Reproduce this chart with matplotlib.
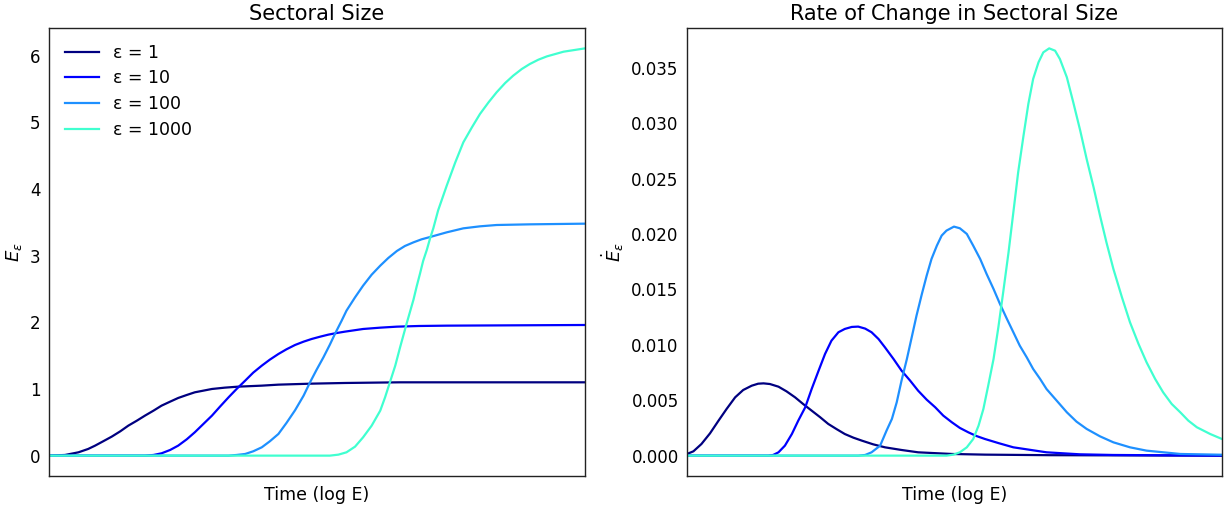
import numpy as np
import matplotlib
matplotlib.use('Agg')
import matplotlib.pyplot as plt

# values, x is time on a 0..10 (log E) scale
eps_labels = ['ε = 1', 'ε = 10', 'ε = 100', 'ε = 1000']
colors = ['navy', 'blue', 'dodgerblue', '#40ffd0']

# --- sectoral size E_eps ---
size_t_1 = [0.00, 0.30, 0.55, 0.73, 0.86, 1.01, 1.17, 1.33, 1.48, 1.64, 1.79, 1.95, 2.10, 2.26, 2.41,
            2.57, 2.72, 2.88, 3.04, 3.28, 3.53, 3.97, 4.28, 4.90, 5.52, 6.55, 10.0]
size_v_1 = [0.00, 0.01, 0.05, 0.10, 0.15, 0.215, 0.285, 0.365, 0.45, 0.525, 0.60, 0.675, 0.75, 0.81, 0.865,
            0.91, 0.95, 0.975, 1.00, 1.02, 1.035, 1.05, 1.065, 1.08, 1.09, 1.10, 1.10]

size_t_10 = [0.00, 1.79, 1.95, 2.10, 2.26, 2.41, 2.57, 2.72, 2.88, 3.04, 3.19, 3.35, 3.50, 3.66, 3.81,
             3.97, 4.12, 4.28, 4.43, 4.59, 4.75, 4.90, 5.06, 5.21, 5.37, 5.52, 5.69, 5.86, 6.18, 6.49,
             6.90, 7.42, 10.0]
size_v_10 = [0.00, 0.00, 0.01, 0.035, 0.085, 0.15, 0.245, 0.35, 0.475, 0.60, 0.735, 0.875, 1.00, 1.125, 1.245,
             1.35, 1.44, 1.525, 1.595, 1.66, 1.71, 1.75, 1.785, 1.815, 1.84, 1.86, 1.88, 1.90, 1.92, 1.935,
             1.945, 1.95, 1.96]

size_t_100 = [0.00, 3.35, 3.50, 3.66, 3.81, 3.97, 4.12, 4.28, 4.43, 4.59, 4.75, 4.87, 4.99, 5.12, 5.24,
              5.34, 5.46, 5.55, 5.71, 5.86, 6.02, 6.18, 6.33, 6.49, 6.64, 6.80, 6.95, 7.11, 7.42, 7.73,
              8.04, 8.35, 8.97, 10.0]
size_v_100 = [0.00, 0.00, 0.01, 0.025, 0.065, 0.125, 0.215, 0.325, 0.49, 0.68, 0.90, 1.10, 1.285, 1.475, 1.665,
              1.835, 2.025, 2.175, 2.375, 2.55, 2.715, 2.85, 2.965, 3.07, 3.145, 3.20, 3.245, 3.28, 3.35, 3.41,
              3.44, 3.46, 3.47, 3.48]

size_t_1000 = [0.00, 5.24, 5.40, 5.55, 5.71, 5.86, 6.02, 6.18, 6.27, 6.36, 6.46, 6.55, 6.67, 6.80, 6.86,
               6.92, 6.98, 7.05, 7.11, 7.17, 7.26, 7.42, 7.58, 7.73, 7.89, 8.04, 8.20, 8.35, 8.51, 8.66,
               8.82, 8.97, 9.13, 9.29, 9.60, 10.0]
size_v_1000 = [0.00, 0.00, 0.015, 0.05, 0.135, 0.275, 0.45, 0.675, 0.875, 1.10, 1.35, 1.625, 1.975, 2.34, 2.54,
               2.725, 2.92, 3.09, 3.26, 3.41, 3.68, 4.05, 4.40, 4.70, 4.925, 5.125, 5.30, 5.45, 5.59, 5.70,
               5.80, 5.875, 5.94, 5.99, 6.06, 6.11]

# --- rate of change dE_eps/dt ---
rate_t_1 = [0.00, 0.12, 0.27, 0.43, 0.59, 0.74, 0.90, 1.05, 1.21, 1.33, 1.43, 1.55, 1.71, 1.86, 2.02,
            2.17, 2.33, 2.49, 2.64, 2.80, 2.95, 3.11, 3.27, 3.48, 3.70, 4.01, 4.32, 4.95, 5.57, 6.79, 10.0]
rate_v_1 = [0.00015, 0.00039, 0.00105, 0.00201, 0.00316, 0.00421, 0.00526, 0.00592, 0.00631, 0.00649,
            0.00652, 0.00646, 0.00622, 0.0058, 0.00526, 0.00466, 0.00406, 0.00346, 0.00286, 0.00238,
            0.00195, 0.00162, 0.00135, 0.00102, 0.00075, 0.00051, 0.0003, 0.00015, 0.00009, 0.00004, 0.0]

rate_t_10 = [0.00, 1.52, 1.61, 1.71, 1.83, 1.96, 2.08, 2.21, 2.33, 2.46, 2.58, 2.70, 2.83, 2.95, 3.08,
             3.20, 3.33, 3.45, 3.58, 3.70, 3.86, 4.01, 4.17, 4.32, 4.48, 4.64, 4.79, 4.95, 5.10, 5.26,
             5.41, 5.57, 5.83, 6.10, 6.72, 7.34, 7.96, 10.0]
rate_v_10 = [0.0, 0.0, 0.00006, 0.0003, 0.0009, 0.00195, 0.00316, 0.00436, 0.00601, 0.00767, 0.00917,
             0.01037, 0.01113, 0.01143, 0.01161, 0.01164, 0.01146, 0.01113, 0.01052, 0.00977, 0.00872,
             0.00767, 0.00677, 0.00586, 0.00505, 0.00436, 0.00361, 0.00301, 0.0025, 0.0021, 0.00177,
             0.0015, 0.00112, 0.00075, 0.0003, 0.00012, 0.00006, 0.0]

rate_t_100 = [0.00, 3.20, 3.33, 3.45, 3.61, 3.73, 3.83, 3.92, 4.01, 4.11, 4.20, 4.29, 4.39, 4.48, 4.57,
              4.67, 4.76, 4.85, 4.99, 5.10, 5.23, 5.35, 5.48, 5.60, 5.73, 5.85, 5.98, 6.10, 6.22, 6.35,
              6.47, 6.60, 6.72, 6.91, 7.10, 7.28, 7.47, 7.72, 7.97, 8.28, 8.59, 9.22, 10.0]
rate_v_100 = [0.0, 0.0, 0.00006, 0.0003, 0.0009, 0.00226, 0.00331, 0.00481, 0.00677, 0.00872, 0.01067,
              0.01263, 0.01458, 0.01624, 0.01774, 0.01894, 0.01985, 0.0203, 0.02066, 0.02051, 0.0200,
              0.01894, 0.01774, 0.01639, 0.01503, 0.01368, 0.01233, 0.01113, 0.00992, 0.00887, 0.00782,
              0.00692, 0.00601, 0.00496, 0.00391, 0.00307, 0.00241, 0.00174, 0.0012, 0.00075, 0.00045,
              0.00015, 0.00008]

rate_t_1000 = [0.00, 4.85, 4.98, 5.10, 5.23, 5.35, 5.45, 5.54, 5.63, 5.73, 5.82, 5.91, 6.01, 6.10, 6.19,
               6.29, 6.38, 6.47, 6.57, 6.66, 6.77, 6.88, 6.97, 7.10, 7.22, 7.35, 7.47, 7.60, 7.72, 7.84,
               7.97, 8.13, 8.28, 8.44, 8.59, 8.75, 8.90, 9.06, 9.22, 9.37, 9.53, 9.78, 10.0]
rate_v_1000 = [0.0, 0.0, 0.00009, 0.0003, 0.00075, 0.0015, 0.00271, 0.00421, 0.00631, 0.00872, 0.01158,
               0.01473, 0.01834, 0.02195, 0.02556, 0.02887, 0.03172, 0.03398, 0.03548, 0.03638, 0.03674,
               0.03653, 0.03578, 0.03413, 0.03187, 0.02932, 0.02676, 0.0242, 0.02165, 0.01924, 0.01684,
               0.01428, 0.01203, 0.01007, 0.00842, 0.00692, 0.00571, 0.00466, 0.00391, 0.00316, 0.00256,
               0.00195, 0.0015]

size_t = [size_t_1, size_t_10, size_t_100, size_t_1000]
size_v = [size_v_1, size_v_10, size_v_100, size_v_1000]
rate_t = [rate_t_1, rate_t_10, rate_t_100, rate_t_1000]
rate_v = [rate_v_1, rate_v_10, rate_v_100, rate_v_1000]

fig = plt.figure(figsize=(12.28, 5.08), dpi=100)
ax1 = fig.add_axes([49/1228, 32/508, 536/1228, 448/508])
ax2 = fig.add_axes([687/1228, 32/508, 535/1228, 448/508])

for i in range(4):
    ax1.plot(size_t[i], size_v[i], color=colors[i], lw=1.6, label=eps_labels[i])
    ax2.plot(rate_t[i], rate_v[i], color=colors[i], lw=1.6, label=eps_labels[i])

for ax in [ax1, ax2]:
    ax.set_xlim(0, 10)
    ax.set_xticks([])
    ax.tick_params(axis='y', length=0, labelsize=12, pad=6)
    ax.set_xlabel('Time (log E)', fontsize=12.5, labelpad=7)
    for s in ax.spines.values():
        s.set_color('#222222')
        s.set_linewidth(1.0)

ax1.set_yticks(np.arange(0, 7))
ax2.set_yticks(np.arange(0, 0.0351, 0.005))
ax2.yaxis.set_major_formatter(matplotlib.ticker.FormatStrFormatter('%.3f'))

ax1.set_ylabel(r'$E_\varepsilon$', fontsize=13)
ax2.set_ylabel(r'$\dot{E}_\varepsilon$', fontsize=13)
ax1.set_title('Sectoral Size', fontsize=15)
ax2.set_title('Rate of Change in Sectoral Size', fontsize=15)

ax1.legend(loc='upper left', frameon=False, fontsize=12.5, labelspacing=0.45)

plt.savefig('out.png', dpi=100)
plt.close()
